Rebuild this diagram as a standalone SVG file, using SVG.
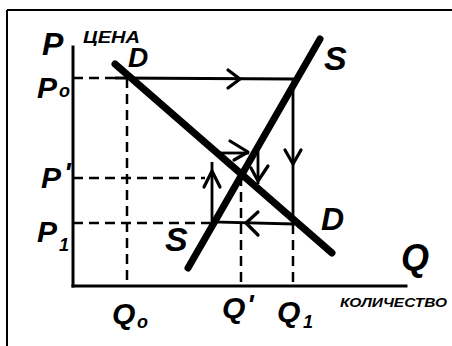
<svg xmlns="http://www.w3.org/2000/svg" width="452" height="346" viewBox="0 0 452 346">
<style>
.frame{stroke:#000;stroke-width:2;fill:none}
.axis{stroke:#000;stroke-width:3;fill:none;stroke-linecap:square}
.curve{stroke:#000;stroke-width:7;fill:none;stroke-linecap:round}
.path{stroke:#000;stroke-width:2.8;fill:none}
.dash{stroke:#000;stroke-width:2.5;fill:none;stroke-dasharray:10 6}
.head{stroke:#000;stroke-width:3.2;fill:none;stroke-linecap:round;stroke-linejoin:round}
.lbl{font-family:"Liberation Sans",Arial,sans-serif;font-style:italic;font-weight:bold;fill:#000}
.big{font-size:30px}
.sub{font-size:18px}
.word{font-family:"Liberation Sans",Arial,sans-serif;font-style:italic;font-weight:bold;fill:#000}
</style>
<rect width="452" height="346" fill="#fff"/>
<g id="frame">
<line class="frame" x1="7" y1="10" x2="452" y2="10"/>
<line class="frame" x1="7" y1="10" x2="7" y2="346"/>
</g>
<g id="axes">
<line class="axis" x1="73" y1="47" x2="73" y2="286"/>
<line class="axis" x1="73" y1="286" x2="406" y2="286"/>
</g>
<g id="connectors">
<line class="dash" x1="73" y1="78" x2="115" y2="78"/>
<line class="dash" x1="127" y1="78" x2="127" y2="286"/>
<line class="dash" x1="73" y1="178" x2="205" y2="178"/>
<line class="dash" x1="73" y1="223" x2="210" y2="223"/>
<line class="dash" x1="241" y1="176" x2="241" y2="286"/>
<line class="dash" x1="293" y1="224" x2="293" y2="286"/>
<polyline class="path" points="115,78 293,79 293,224 212,222 212,162"/>
<line class="path" x1="220" y1="153" x2="249" y2="153"/>
<line class="path" x1="258" y1="150" x2="258" y2="184"/>
<polyline class="head" points="228,70 240,79 228,88"/>
<polyline class="head" points="285,150 293,164 301,150"/>
<polyline class="head" points="258,212 246,223 258,235"/>
<polyline class="head" points="204,187 212,171 220,187"/>
<polyline class="head" points="230,141 248,152 234,160"/>
<polyline class="head" points="251,168 258,181 268,166"/>
</g>
<g id="demand">
<line class="curve" x1="115" y1="64" x2="332" y2="253"/>
</g>
<g id="supply">
<line class="curve" x1="188" y1="268" x2="320" y2="39"/>
</g>
<g id="labels">
<text class="lbl" x="42" y="55" font-size="32">P</text>
<text class="word" x="83" y="43" font-size="16" textLength="57" lengthAdjust="spacingAndGlyphs">ЦЕНА</text>
<text class="lbl" x="128" y="67" font-size="28">D</text>
<text class="lbl big" x="37" y="98">P</text>
<text class="lbl sub" x="59" y="97">o</text>
<text class="lbl big" x="41" y="188">P</text>
<text class="lbl" x="64" y="182" font-size="28">'</text>
<text class="lbl big" x="37" y="242">P</text>
<text class="lbl sub" x="59" y="251">1</text>
<text class="lbl" x="324" y="70" font-size="34" font-weight="normal">S</text>
<text class="lbl" x="165" y="251" font-size="34" font-weight="normal">S</text>
<text class="lbl" x="321" y="230" font-size="32">D</text>
<text class="lbl" x="401" y="270" font-size="36" font-weight="normal">Q</text>
<text class="lbl big" x="112" y="324">Q</text>
<text class="lbl sub" x="137" y="328">o</text>
<text class="lbl big" x="222" y="318">Q</text>
<text class="lbl" x="247" y="314" font-size="28">'</text>
<text class="lbl big" x="277" y="322">Q</text>
<text class="lbl sub" x="303" y="328">1</text>
<text class="word" x="340" y="307" font-size="13" textLength="107" lengthAdjust="spacingAndGlyphs">КОЛИЧЕСТВО</text>
</g>
</svg>
